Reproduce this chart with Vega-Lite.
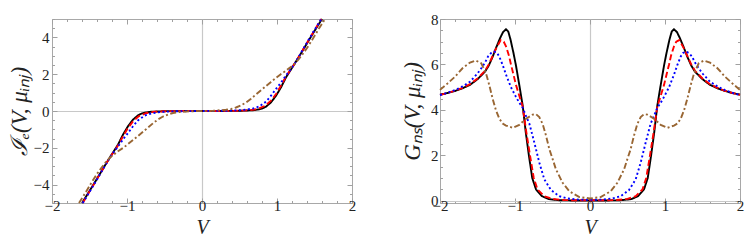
{
  "$schema": "https://vega.github.io/schema/vega-lite/v6.json",
  "padding": {"left": 7, "top": 11, "right": 0, "bottom": 0},
  "bounds": "flush",
  "spacing": 88,
  "config": {
    "view": {"stroke": "#a8a8a8", "strokeWidth": 1},
    "axis": {
      "labelFont": "Liberation Serif", "labelFontSize": 15, "labelColor": "#222222",
      "titleFont": "Liberation Serif", "titleFontStyle": "italic", "titleFontSize": 20,
      "titleFontWeight": "normal", "titleColor": "#222222",
      "domain": false, "ticks": false,
      "labelOverlap": false, "labelFlush": false
    },
    "line": {"strokeWidth": 1.9, "clip": true}
  },
  "datasets": {
    "cur": [
      {"s":"s1","V":-1.6,"I":-5},{"s":"s1","V":-1.5,"I":-4.35},{"s":"s1","V":-1.4,"I":-3.68},{"s":"s1","V":-1.3,"I":-3.0},{"s":"s1","V":-1.232,"I":-2.55},{"s":"s1","V":-1.17,"I":-2.15},{"s":"s1","V":-1.12,"I":-1.83},{"s":"s1","V":-1.054,"I":-1.29},{"s":"s1","V":-0.987,"I":-0.83},{"s":"s1","V":-0.92,"I":-0.47},{"s":"s1","V":-0.854,"I":-0.24},{"s":"s1","V":-0.8,"I":-0.13},{"s":"s1","V":-0.765,"I":-0.09},{"s":"s1","V":-0.676,"I":-0.04},{"s":"s1","V":-0.5,"I":-0.01},{"s":"s1","V":-0.25,"I":-0.003},{"s":"s1","V":0,"I":0},
      {"s":"s1","V":1.6,"I":5},{"s":"s1","V":1.5,"I":4.35},{"s":"s1","V":1.4,"I":3.68},{"s":"s1","V":1.3,"I":3.0},{"s":"s1","V":1.232,"I":2.55},{"s":"s1","V":1.17,"I":2.15},{"s":"s1","V":1.12,"I":1.83},{"s":"s1","V":1.054,"I":1.29},{"s":"s1","V":0.987,"I":0.83},{"s":"s1","V":0.92,"I":0.47},{"s":"s1","V":0.854,"I":0.24},{"s":"s1","V":0.8,"I":0.13},{"s":"s1","V":0.765,"I":0.09},{"s":"s1","V":0.676,"I":0.04},{"s":"s1","V":0.5,"I":0.01},{"s":"s1","V":0.25,"I":0.003},
      {"s":"s2","V":-1.59,"I":-5},{"s":"s2","V":-1.5,"I":-4.38},{"s":"s2","V":-1.4,"I":-3.7},{"s":"s2","V":-1.3,"I":-3.01},{"s":"s2","V":-1.232,"I":-2.55},{"s":"s2","V":-1.17,"I":-2.18},{"s":"s2","V":-1.12,"I":-1.88},{"s":"s2","V":-1.054,"I":-1.38},{"s":"s2","V":-0.987,"I":-0.92},{"s":"s2","V":-0.92,"I":-0.56},{"s":"s2","V":-0.845,"I":-0.29},{"s":"s2","V":-0.743,"I":-0.11},{"s":"s2","V":-0.631,"I":-0.04},{"s":"s2","V":-0.45,"I":-0.01},{"s":"s2","V":-0.25,"I":-0.004},{"s":"s2","V":0,"I":0},
      {"s":"s2","V":1.59,"I":5},{"s":"s2","V":1.5,"I":4.38},{"s":"s2","V":1.4,"I":3.7},{"s":"s2","V":1.3,"I":3.01},{"s":"s2","V":1.232,"I":2.55},{"s":"s2","V":1.17,"I":2.18},{"s":"s2","V":1.12,"I":1.88},{"s":"s2","V":1.054,"I":1.38},{"s":"s2","V":0.987,"I":0.92},{"s":"s2","V":0.92,"I":0.56},{"s":"s2","V":0.845,"I":0.29},{"s":"s2","V":0.743,"I":0.11},{"s":"s2","V":0.631,"I":0.04},{"s":"s2","V":0.45,"I":0.01},{"s":"s2","V":0.25,"I":0.004},
      {"s":"s3","V":-1.59,"I":-5},{"s":"s3","V":-1.5,"I":-4.4},{"s":"s3","V":-1.4,"I":-3.72},{"s":"s3","V":-1.3,"I":-3.02},{"s":"s3","V":-1.232,"I":-2.55},{"s":"s3","V":-1.17,"I":-2.2},{"s":"s3","V":-1.12,"I":-1.93},{"s":"s3","V":-1.054,"I":-1.55},{"s":"s3","V":-0.987,"I":-1.2},{"s":"s3","V":-0.92,"I":-0.83},{"s":"s3","V":-0.854,"I":-0.51},{"s":"s3","V":-0.765,"I":-0.25},{"s":"s3","V":-0.676,"I":-0.13},{"s":"s3","V":-0.542,"I":-0.05},{"s":"s3","V":-0.35,"I":-0.015},{"s":"s3","V":0,"I":0},
      {"s":"s3","V":1.59,"I":5},{"s":"s3","V":1.5,"I":4.4},{"s":"s3","V":1.4,"I":3.72},{"s":"s3","V":1.3,"I":3.02},{"s":"s3","V":1.232,"I":2.55},{"s":"s3","V":1.17,"I":2.2},{"s":"s3","V":1.12,"I":1.93},{"s":"s3","V":1.054,"I":1.55},{"s":"s3","V":0.987,"I":1.2},{"s":"s3","V":0.92,"I":0.83},{"s":"s3","V":0.854,"I":0.51},{"s":"s3","V":0.765,"I":0.25},{"s":"s3","V":0.676,"I":0.13},{"s":"s3","V":0.542,"I":0.05},{"s":"s3","V":0.35,"I":0.015},
      {"s":"s4","V":-1.64,"I":-5},{"s":"s4","V":-1.55,"I":-4.42},{"s":"s4","V":-1.476,"I":-3.91},{"s":"s4","V":-1.4,"I":-3.42},{"s":"s4","V":-1.343,"I":-3.1},{"s":"s4","V":-1.29,"I":-2.82},{"s":"s4","V":-1.232,"I":-2.55},{"s":"s4","V":-1.17,"I":-2.35},{"s":"s4","V":-1.12,"I":-2.19},{"s":"s4","V":-1.05,"I":-2.0},{"s":"s4","V":-0.987,"I":-1.8},{"s":"s4","V":-0.92,"I":-1.58},{"s":"s4","V":-0.854,"I":-1.36},{"s":"s4","V":-0.787,"I":-1.13},{"s":"s4","V":-0.72,"I":-0.9},{"s":"s4","V":-0.654,"I":-0.67},{"s":"s4","V":-0.587,"I":-0.46},{"s":"s4","V":-0.52,"I":-0.3},{"s":"s4","V":-0.454,"I":-0.19},{"s":"s4","V":-0.387,"I":-0.11},{"s":"s4","V":-0.32,"I":-0.065},{"s":"s4","V":-0.15,"I":-0.015},{"s":"s4","V":0,"I":0},
      {"s":"s4","V":1.64,"I":5},{"s":"s4","V":1.55,"I":4.42},{"s":"s4","V":1.476,"I":3.91},{"s":"s4","V":1.4,"I":3.42},{"s":"s4","V":1.343,"I":3.1},{"s":"s4","V":1.29,"I":2.82},{"s":"s4","V":1.232,"I":2.55},{"s":"s4","V":1.17,"I":2.35},{"s":"s4","V":1.12,"I":2.19},{"s":"s4","V":1.05,"I":2.0},{"s":"s4","V":0.987,"I":1.8},{"s":"s4","V":0.92,"I":1.58},{"s":"s4","V":0.854,"I":1.36},{"s":"s4","V":0.787,"I":1.13},{"s":"s4","V":0.72,"I":0.9},{"s":"s4","V":0.654,"I":0.67},{"s":"s4","V":0.587,"I":0.46},{"s":"s4","V":0.52,"I":0.3},{"s":"s4","V":0.454,"I":0.19},{"s":"s4","V":0.387,"I":0.11},{"s":"s4","V":0.32,"I":0.065},{"s":"s4","V":0.15,"I":0.015}
    ],
    "cond": [
      {"s":"s1","V":-2,"G":4.67},{"s":"s1","V":-1.9,"G":4.74},{"s":"s1","V":-1.8,"G":4.83},{"s":"s1","V":-1.7,"G":4.95},{"s":"s1","V":-1.6,"G":5.1},{"s":"s1","V":-1.5,"G":5.35},{"s":"s1","V":-1.4,"G":5.68},{"s":"s1","V":-1.35,"G":5.95},{"s":"s1","V":-1.3,"G":6.32},{"s":"s1","V":-1.25,"G":6.75},{"s":"s1","V":-1.2,"G":7.15},{"s":"s1","V":-1.16,"G":7.42},{"s":"s1","V":-1.12,"G":7.55},{"s":"s1","V":-1.09,"G":7.45},{"s":"s1","V":-1.06,"G":7.1},{"s":"s1","V":-1.02,"G":6.5},{"s":"s1","V":-0.987,"G":5.95},{"s":"s1","V":-0.943,"G":5.1},{"s":"s1","V":-0.898,"G":4.2},{"s":"s1","V":-0.856,"G":3.0},{"s":"s1","V":-0.815,"G":2.0},{"s":"s1","V":-0.77,"G":1.0},{"s":"s1","V":-0.72,"G":0.5},{"s":"s1","V":-0.64,"G":0.2},{"s":"s1","V":-0.55,"G":0.07},{"s":"s1","V":-0.4,"G":0.02},{"s":"s1","V":-0.2,"G":0.01},{"s":"s1","V":0,"G":0.01},
      {"s":"s1","V":2,"G":4.67},{"s":"s1","V":1.9,"G":4.74},{"s":"s1","V":1.8,"G":4.83},{"s":"s1","V":1.7,"G":4.95},{"s":"s1","V":1.6,"G":5.1},{"s":"s1","V":1.5,"G":5.35},{"s":"s1","V":1.4,"G":5.68},{"s":"s1","V":1.35,"G":5.95},{"s":"s1","V":1.3,"G":6.32},{"s":"s1","V":1.25,"G":6.75},{"s":"s1","V":1.2,"G":7.15},{"s":"s1","V":1.16,"G":7.42},{"s":"s1","V":1.12,"G":7.55},{"s":"s1","V":1.09,"G":7.45},{"s":"s1","V":1.06,"G":7.1},{"s":"s1","V":1.02,"G":6.5},{"s":"s1","V":0.987,"G":5.95},{"s":"s1","V":0.943,"G":5.1},{"s":"s1","V":0.898,"G":4.2},{"s":"s1","V":0.856,"G":3.0},{"s":"s1","V":0.815,"G":2.0},{"s":"s1","V":0.77,"G":1.0},{"s":"s1","V":0.72,"G":0.5},{"s":"s1","V":0.64,"G":0.2},{"s":"s1","V":0.55,"G":0.07},{"s":"s1","V":0.4,"G":0.02},{"s":"s1","V":0.2,"G":0.01},
      {"s":"s2","V":-2,"G":4.66},{"s":"s2","V":-1.9,"G":4.74},{"s":"s2","V":-1.8,"G":4.84},{"s":"s2","V":-1.7,"G":4.97},{"s":"s2","V":-1.6,"G":5.13},{"s":"s2","V":-1.5,"G":5.38},{"s":"s2","V":-1.4,"G":5.72},{"s":"s2","V":-1.35,"G":6.0},{"s":"s2","V":-1.3,"G":6.36},{"s":"s2","V":-1.25,"G":6.72},{"s":"s2","V":-1.19,"G":7.07},{"s":"s2","V":-1.15,"G":7.0},{"s":"s2","V":-1.12,"G":6.8},{"s":"s2","V":-1.08,"G":6.38},{"s":"s2","V":-1.054,"G":6.0},{"s":"s2","V":-1.02,"G":5.55},{"s":"s2","V":-0.987,"G":5.1},{"s":"s2","V":-0.943,"G":4.62},{"s":"s2","V":-0.898,"G":4.15},{"s":"s2","V":-0.848,"G":3.0},{"s":"s2","V":-0.8,"G":2.0},{"s":"s2","V":-0.75,"G":1.0},{"s":"s2","V":-0.7,"G":0.5},{"s":"s2","V":-0.61,"G":0.2},{"s":"s2","V":-0.5,"G":0.08},{"s":"s2","V":-0.35,"G":0.03},{"s":"s2","V":-0.2,"G":0.02},{"s":"s2","V":0,"G":0.02},
      {"s":"s2","V":2,"G":4.66},{"s":"s2","V":1.9,"G":4.74},{"s":"s2","V":1.8,"G":4.84},{"s":"s2","V":1.7,"G":4.97},{"s":"s2","V":1.6,"G":5.13},{"s":"s2","V":1.5,"G":5.38},{"s":"s2","V":1.4,"G":5.72},{"s":"s2","V":1.35,"G":6.0},{"s":"s2","V":1.3,"G":6.36},{"s":"s2","V":1.25,"G":6.72},{"s":"s2","V":1.19,"G":7.07},{"s":"s2","V":1.15,"G":7.0},{"s":"s2","V":1.12,"G":6.8},{"s":"s2","V":1.08,"G":6.38},{"s":"s2","V":1.054,"G":6.0},{"s":"s2","V":1.02,"G":5.55},{"s":"s2","V":0.987,"G":5.1},{"s":"s2","V":0.943,"G":4.62},{"s":"s2","V":0.898,"G":4.15},{"s":"s2","V":0.848,"G":3.0},{"s":"s2","V":0.8,"G":2.0},{"s":"s2","V":0.75,"G":1.0},{"s":"s2","V":0.7,"G":0.5},{"s":"s2","V":0.61,"G":0.2},{"s":"s2","V":0.5,"G":0.08},{"s":"s2","V":0.35,"G":0.03},{"s":"s2","V":0.2,"G":0.02},
      {"s":"s3","V":-2,"G":4.65},{"s":"s3","V":-1.9,"G":4.75},{"s":"s3","V":-1.8,"G":4.87},{"s":"s3","V":-1.7,"G":5.03},{"s":"s3","V":-1.6,"G":5.24},{"s":"s3","V":-1.5,"G":5.6},{"s":"s3","V":-1.45,"G":5.83},{"s":"s3","V":-1.4,"G":6.08},{"s":"s3","V":-1.36,"G":6.35},{"s":"s3","V":-1.32,"G":6.5},{"s":"s3","V":-1.28,"G":6.57},{"s":"s3","V":-1.24,"G":6.5},{"s":"s3","V":-1.21,"G":6.35},{"s":"s3","V":-1.165,"G":5.98},{"s":"s3","V":-1.12,"G":5.55},{"s":"s3","V":-1.054,"G":5.0},{"s":"s3","V":-0.987,"G":4.57},{"s":"s3","V":-0.94,"G":4.3},{"s":"s3","V":-0.898,"G":4.1},{"s":"s3","V":-0.85,"G":3.7},{"s":"s3","V":-0.809,"G":3.4},{"s":"s3","V":-0.743,"G":2.57},{"s":"s3","V":-0.676,"G":1.68},{"s":"s3","V":-0.609,"G":0.94},{"s":"s3","V":-0.52,"G":0.47},{"s":"s3","V":-0.41,"G":0.2},{"s":"s3","V":-0.3,"G":0.1},{"s":"s3","V":-0.15,"G":0.05},{"s":"s3","V":0,"G":0.04},
      {"s":"s3","V":2,"G":4.65},{"s":"s3","V":1.9,"G":4.75},{"s":"s3","V":1.8,"G":4.87},{"s":"s3","V":1.7,"G":5.03},{"s":"s3","V":1.6,"G":5.24},{"s":"s3","V":1.5,"G":5.6},{"s":"s3","V":1.45,"G":5.83},{"s":"s3","V":1.4,"G":6.08},{"s":"s3","V":1.36,"G":6.35},{"s":"s3","V":1.32,"G":6.5},{"s":"s3","V":1.28,"G":6.57},{"s":"s3","V":1.24,"G":6.5},{"s":"s3","V":1.21,"G":6.35},{"s":"s3","V":1.165,"G":5.98},{"s":"s3","V":1.12,"G":5.55},{"s":"s3","V":1.054,"G":5.0},{"s":"s3","V":0.987,"G":4.57},{"s":"s3","V":0.94,"G":4.3},{"s":"s3","V":0.898,"G":4.1},{"s":"s3","V":0.85,"G":3.7},{"s":"s3","V":0.809,"G":3.4},{"s":"s3","V":0.743,"G":2.57},{"s":"s3","V":0.676,"G":1.68},{"s":"s3","V":0.609,"G":0.94},{"s":"s3","V":0.52,"G":0.47},{"s":"s3","V":0.41,"G":0.2},{"s":"s3","V":0.3,"G":0.1},{"s":"s3","V":0.15,"G":0.05},
      {"s":"s4","V":-2,"G":4.88},{"s":"s4","V":-1.9,"G":5.16},{"s":"s4","V":-1.8,"G":5.46},{"s":"s4","V":-1.7,"G":5.83},{"s":"s4","V":-1.6,"G":6.08},{"s":"s4","V":-1.52,"G":6.17},{"s":"s4","V":-1.45,"G":6.05},{"s":"s4","V":-1.387,"G":5.61},{"s":"s4","V":-1.343,"G":5.09},{"s":"s4","V":-1.298,"G":4.49},{"s":"s4","V":-1.254,"G":3.98},{"s":"s4","V":-1.209,"G":3.61},{"s":"s4","V":-1.165,"G":3.4},{"s":"s4","V":-1.12,"G":3.31},{"s":"s4","V":-1.032,"G":3.21},{"s":"s4","V":-0.943,"G":3.34},{"s":"s4","V":-0.854,"G":3.61},{"s":"s4","V":-0.765,"G":3.79},{"s":"s4","V":-0.72,"G":3.81},{"s":"s4","V":-0.676,"G":3.68},{"s":"s4","V":-0.631,"G":3.38},{"s":"s4","V":-0.587,"G":2.87},{"s":"s4","V":-0.542,"G":2.27},{"s":"s4","V":-0.498,"G":1.83},{"s":"s4","V":-0.454,"G":1.38},{"s":"s4","V":-0.365,"G":0.79},{"s":"s4","V":-0.276,"G":0.42},{"s":"s4","V":-0.142,"G":0.16},{"s":"s4","V":0,"G":0.1},
      {"s":"s4","V":2,"G":4.88},{"s":"s4","V":1.9,"G":5.16},{"s":"s4","V":1.8,"G":5.46},{"s":"s4","V":1.7,"G":5.83},{"s":"s4","V":1.6,"G":6.08},{"s":"s4","V":1.52,"G":6.17},{"s":"s4","V":1.45,"G":6.05},{"s":"s4","V":1.387,"G":5.61},{"s":"s4","V":1.343,"G":5.09},{"s":"s4","V":1.298,"G":4.49},{"s":"s4","V":1.254,"G":3.98},{"s":"s4","V":1.209,"G":3.61},{"s":"s4","V":1.165,"G":3.4},{"s":"s4","V":1.12,"G":3.31},{"s":"s4","V":1.032,"G":3.21},{"s":"s4","V":0.943,"G":3.34},{"s":"s4","V":0.854,"G":3.61},{"s":"s4","V":0.765,"G":3.79},{"s":"s4","V":0.72,"G":3.81},{"s":"s4","V":0.676,"G":3.68},{"s":"s4","V":0.631,"G":3.38},{"s":"s4","V":0.587,"G":2.87},{"s":"s4","V":0.542,"G":2.27},{"s":"s4","V":0.498,"G":1.83},{"s":"s4","V":0.454,"G":1.38},{"s":"s4","V":0.365,"G":0.79},{"s":"s4","V":0.276,"G":0.42},{"s":"s4","V":0.142,"G":0.16}
    ]
  },
  "hconcat": [
    {
      "width": 300, "height": 184,
      "data": {"name": "cur"},
      "layer": [
        {
          "mark": {"type": "line"},
          "encoding": {
            "x": {"field": "V", "type": "quantitative", "scale": {"domain": [-2, 2], "nice": false, "zero": false},
              "axis": {"orient": "bottom", "title": "V", "titlePadding": 4,
                "values": [-2, -1, 0, 1, 2], "format": "d",
                "labelOverlap": false, "labelFlush": false, "labelBound": false, "labelPadding": -5,
                "grid": true, "gridColor": "#c8c8c8", "gridWidth": 1.2,
                "gridOpacity": {"condition": {"test": "datum.value === 0", "value": 1}, "value": 0}}},
            "y": {"field": "I", "type": "quantitative", "scale": {"domain": [-5, 5], "nice": false, "zero": false},
              "axis": {"orient": "left", "title": "ℐₑ(V, μᵢₙⱼ)", "titlePadding": 2, "titleFontSize": 23,
                "values": [-4, -2, 0, 2, 4], "format": "d",
                "labelOverlap": false, "labelFlush": false, "labelBound": false, "labelPadding": 3,
                "grid": true, "gridColor": "#c8c8c8", "gridWidth": 1.2,
                "gridOpacity": {"condition": {"test": "datum.value === 0", "value": 1}, "value": 0}}},
            "color": {"field": "s", "type": "nominal", "scale": {"domain": ["s1","s2","s3","s4"], "range": ["#000000","#ff0000","#0000ff","#996633"]}, "legend": null},
            "strokeDash": {"field": "s", "type": "nominal", "scale": {"domain": ["s1","s2","s3","s4"], "range": [[1,0],[6,3],[2,2.5],[6,2.5,2,2.5]]}, "legend": null}
          }
        },
        {
          "mark": {"type": "line", "opacity": 0},
          "encoding": {
            "x": {"field": "V", "type": "quantitative", "scale": {"domain": [-2, 2], "nice": false, "zero": false},
              "axis": {"orient": "top", "title": null, "labels": false,
                "values": [-2,-1.8,-1.6,-1.4,-1.2,-1,-0.8,-0.6,-0.4,-0.2,0,0.2,0.4,0.6,0.8,1,1.2,1.4,1.6,1.8,2],
                "grid": true, "gridColor": "#a0a0a0", "gridWidth": 1,
                "gridDash": {"condition": {"test": "datum.value % 1 === 0", "value": [5, 174, 5, 400]}, "value": [2.5, 179, 2.5, 400]}}},
            "y": {"field": "I", "type": "quantitative", "scale": {"domain": [-5, 5], "nice": false, "zero": false},
              "axis": {"orient": "right", "title": null, "labels": false,
                "values": [-5,-4.5,-4,-3.5,-3,-2.5,-2,-1.5,-1,-0.5,0,0.5,1,1.5,2,2.5,3,3.5,4,4.5,5],
                "grid": true, "gridColor": "#a0a0a0", "gridWidth": 1,
                "gridDash": {"condition": {"test": "datum.value % 2 === 0", "value": [5, 290, 5, 400]}, "value": [2.5, 295, 2.5, 400]}}},
            "detail": {"field": "s"}
          }
        }
      ],
      "resolve": {"axis": {"x": "independent", "y": "independent"}}
    },
    {
      "width": 300, "height": 184,
      "data": {"name": "cond"},
      "layer": [
        {
          "mark": {"type": "line"},
          "encoding": {
            "x": {"field": "V", "type": "quantitative", "scale": {"domain": [-2, 2], "nice": false, "zero": false},
              "axis": {"orient": "bottom", "title": "V", "titlePadding": 4,
                "values": [-2, -1, 0, 1, 2], "format": "d",
                "labelOverlap": false, "labelFlush": false, "labelBound": false, "labelPadding": -5,
                "grid": true, "gridColor": "#c8c8c8", "gridWidth": 1.2,
                "gridOpacity": {"condition": {"test": "datum.value === 0", "value": 1}, "value": 0}}},
            "y": {"field": "G", "type": "quantitative", "scale": {"domain": [-0.1, 8], "nice": false, "zero": false},
              "axis": {"orient": "left", "title": "Gₙₛ(V, μᵢₙⱼ)", "titlePadding": 6, "titleFontSize": 23,
                "values": [0, 2, 4, 6, 8], "format": "d",
                "labelOverlap": false, "labelFlush": false, "labelBound": false, "labelPadding": 2,
                "grid": true, "gridColor": "#c8c8c8", "gridWidth": 1.2,
                "gridOpacity": {"condition": {"test": "datum.value === 0", "value": 1}, "value": 0}}},
            "color": {"field": "s", "type": "nominal", "scale": {"domain": ["s1","s2","s3","s4"], "range": ["#000000","#ff0000","#0000ff","#996633"]}, "legend": null},
            "strokeDash": {"field": "s", "type": "nominal", "scale": {"domain": ["s1","s2","s3","s4"], "range": [[1,0],[6,3],[2,2.5],[6,2.5,2,2.5]]}, "legend": null}
          }
        },
        {
          "mark": {"type": "line", "opacity": 0},
          "encoding": {
            "x": {"field": "V", "type": "quantitative", "scale": {"domain": [-2, 2], "nice": false, "zero": false},
              "axis": {"orient": "top", "title": null, "labels": false,
                "values": [-2,-1.8,-1.6,-1.4,-1.2,-1,-0.8,-0.6,-0.4,-0.2,0,0.2,0.4,0.6,0.8,1,1.2,1.4,1.6,1.8,2],
                "grid": true, "gridColor": "#a0a0a0", "gridWidth": 1,
                "gridDash": {"condition": {"test": "datum.value % 1 === 0", "value": [5, 174, 5, 400]}, "value": [2.5, 179, 2.5, 400]}}},
            "y": {"field": "G", "type": "quantitative", "scale": {"domain": [-0.1, 8], "nice": false, "zero": false},
              "axis": {"orient": "right", "title": null, "labels": false,
                "values": [0,0.5,1,1.5,2,2.5,3,3.5,4,4.5,5,5.5,6,6.5,7,7.5,8],
                "grid": true, "gridColor": "#a0a0a0", "gridWidth": 1,
                "gridDash": {"condition": {"test": "datum.value % 2 === 0", "value": [5, 290, 5, 400]}, "value": [2.5, 295, 2.5, 400]}}},
            "detail": {"field": "s"}
          }
        }
      ],
      "resolve": {"axis": {"x": "independent", "y": "independent"}}
    }
  ]
}
